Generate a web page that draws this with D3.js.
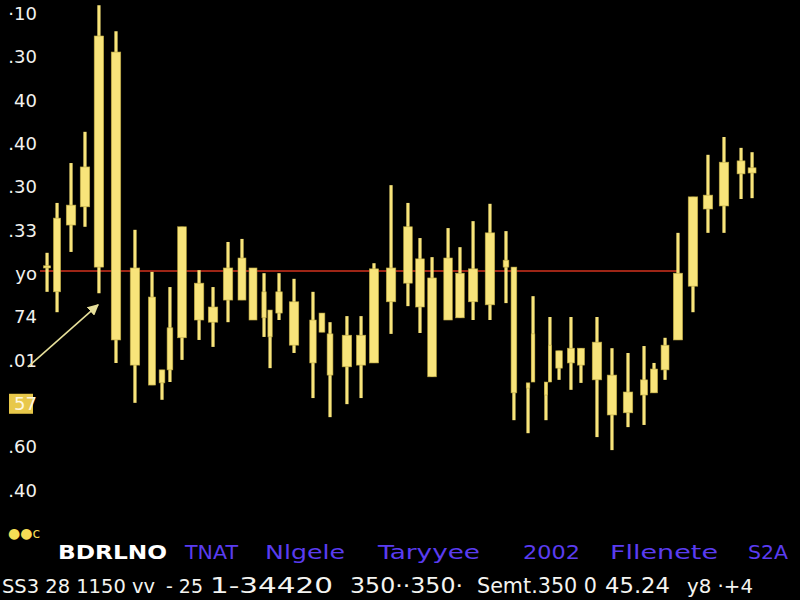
<!DOCTYPE html>
<html><head><meta charset="utf-8">
<script src="https://cdn.jsdelivr.net/npm/d3@7/dist/d3.min.js"></script>
<style>html,body{margin:0;padding:0;background:#000;}svg{display:block;}</style>
</head><body>
<svg id="chart" width="800" height="600"></svg>
<script>
// ---- data ----
const times  = [0.48,1.16,2.11,3.06,4.01,5.17,6.46,7.62,8.30,8.84,9.66,10.82,11.77,12.79,13.74,14.49,15.24,15.65,16.26,17.28,18.57,19.18,19.73,20.88,21.84,22.72,23.88,25.03,25.85,26.67,27.76,28.57,29.46,30.61,31.70,32.24,33.20,33.54,34.42,34.69,35.31,36.12,36.80,37.89,38.91,40.00,41.09,41.77,42.52,43.40,44.42,45.44,46.53,47.69,48.44];
const highs  = [6.47,7.62,8.54,9.26,12.18,11.58,7.00,6.03,3.77,5.68,7.07,6.07,5.68,6.72,6.79,6.12,6.00,5.15,6.00,5.87,5.57,5.08,4.87,5.01,5.01,6.23,8.03,7.62,6.81,6.37,7.04,6.60,7.20,7.60,6.97,6.14,3.47,5.47,3.49,4.99,4.21,4.99,4.27,4.99,4.27,4.16,4.32,3.93,4.51,6.93,7.76,8.73,9.14,8.89,8.79];
const opens  = [6.12,5.57,7.11,7.53,6.14,4.46,3.88,3.42,3.47,3.77,4.51,4.92,4.87,5.38,5.38,4.92,4.97,4.53,5.08,4.34,3.93,4.64,3.65,3.84,3.88,3.93,5.34,5.77,5.22,3.61,4.92,4.97,5.34,5.27,6.14,3.24,3.35,3.49,3.19,3.49,3.81,3.93,3.88,3.54,2.73,2.78,3.19,3.24,3.77,4.46,5.70,7.48,7.55,8.29,8.31];
const closes = [6.17,7.27,7.57,8.45,11.47,11.10,6.12,5.45,3.77,4.74,7.07,5.77,5.22,6.12,6.35,6.12,5.57,5.15,5.57,5.34,4.92,5.08,4.60,4.57,4.57,6.10,6.12,7.07,6.33,5.89,6.35,6.00,6.10,6.93,6.30,6.14,3.47,4.60,3.49,4.34,4.21,4.27,4.27,4.41,3.65,3.26,3.54,3.79,4.34,6.00,7.76,7.80,8.56,8.59,8.43];
const lows   = [5.57,5.10,6.49,7.07,5.54,3.93,3.01,3.42,3.08,3.49,4.00,4.46,4.30,4.87,5.38,4.92,4.53,3.81,4.92,4.16,3.12,4.64,2.68,2.98,3.12,3.93,4.60,5.24,4.62,3.61,4.92,4.97,4.92,4.92,5.31,2.61,2.31,3.49,2.61,3.49,3.54,3.31,3.47,2.22,1.92,2.45,2.50,3.24,3.54,4.46,5.10,6.93,6.93,7.71,7.73];
const tickValues = [12,11,10,9,8,7,6,5,4,3,2,1];
const tickLabels = ["·10",".30","40",".40",".30",".33","yo","74",".01","57",".60",".40"];
const refLevel = 6.05, refStart = 0, refEnd = 43.4;
const arrowFrom = [-0.82, 3.84], arrowTo = [3.95, 5.27];
const bottomLabels = ["BDRLNO","TNAT","Nlgele","Taryyee","2002","Fllenete","S2A"];
const footerTexts = ["SS3 28 1150 vv","- 25","1-34420","350··350·","Semt.350 0","45.24","y8 ·+4"];

// ---- layout ----
const svg = d3.select("#chart");
svg.append("rect").attr("width",800).attr("height",600).attr("fill","#000");
const x = d3.scaleLinear().domain([0,50]).range([40,775]);
const y = d3.scaleLinear().domain([1,12]).range([490,13]);

// y axis labels
const yAxis = d3.axisLeft(y).tickValues(tickValues)
  .tickFormat((d,i)=>tickLabels[i]).tickSize(0).tickPadding(0);
const ga = svg.append("g").attr("transform","translate(37,0)").call(yAxis);
ga.select(".domain").remove();
ga.selectAll("text").attr("fill","#f2f2ee").attr("font-family","DejaVu Sans, sans-serif")
  .attr("font-size",18).attr("dy","0.35em");
ga.selectAll(".tick").filter(d=>d===3).each(function(){
  const g=d3.select(this);
  g.insert("rect","text").attr("x",-28).attr("y",-10).attr("width",24).attr("height",20).attr("fill","#e8c84a");
  g.select("text").attr("fill","#fff8e0");
});
svg.append("text").attr("x",8).attr("y",538).attr("fill","#f5dd55")
  .attr("font-family","DejaVu Sans, sans-serif").attr("font-size",14).text("●●c");

// reference line
svg.append("line").attr("x1",x(refStart)).attr("x2",x(refEnd))
  .attr("y1",y(refLevel)).attr("y2",y(refLevel)).attr("stroke","#d2321e").attr("stroke-width",1.6);

// candles
const data = times.map((t,i)=>({t,h:highs[i],o:opens[i],c:closes[i],l:lows[i]}));
const widthOf = (i)=>{
  const px = x(times[i]);
  let gap = 20;
  if(i>0) gap = Math.min(gap, px - x(times[i-1]));
  if(i<times.length-1) gap = Math.min(gap, x(times[i+1]) - px);
  return Math.max(3, Math.min(9.5, gap*0.72));
};
const g = svg.append("g");
const yellow = "#f8e47a";
g.selectAll("line.wick").data(data).join("line").attr("class","wick")
  .attr("x1",d=>x(d.t)).attr("x2",d=>x(d.t))
  .attr("y1",d=>y(d.h)).attr("y2",d=>y(d.l))
  .attr("stroke",yellow).attr("stroke-width",3.2);
g.selectAll("rect.body").data(data).join("rect").attr("class","body")
  .attr("x",(d,i)=>x(d.t)-widthOf(i)/2).attr("width",(d,i)=>widthOf(i))
  .attr("y",d=>y(Math.max(d.o,d.c)))
  .attr("height",d=>Math.max(2,Math.abs(y(d.o)-y(d.c))))
  .attr("fill",yellow).attr("stroke","#b8a440").attr("stroke-width",0.6);

// arrow annotation
svg.append("defs").append("marker").attr("id","ah").attr("viewBox","0 0 10 10")
  .attr("refX",9).attr("refY",5).attr("markerWidth",7).attr("markerHeight",7).attr("orient","auto")
  .append("path").attr("d","M0,0 L10,5 L0,10 z").attr("fill","#e6df9a");
svg.append("line").attr("x1",x(arrowFrom[0])).attr("y1",y(arrowFrom[1]))
  .attr("x2",x(arrowTo[0])).attr("y2",y(arrowTo[1]))
  .attr("stroke","#e6df9a").attr("stroke-width",1.6).attr("marker-end","url(#ah)");

// fit text: choose a font size whose natural width is not wider than the target span
function fit(sel, targets, maxFs){
  sel.each(function(d,i){
    const t = d3.select(this).attr("font-size",maxFs);
    const n = this.getComputedTextLength();
    const fs = Math.min(maxFs, maxFs*targets[i]/n);
    t.attr("font-size",fs).attr("textLength",targets[i]).attr("lengthAdjust","spacingAndGlyphs");
  });
}

// bottom label row
const rowX = [58,185,265,378,523,610,748];
const rowW = [109,53,80,102,57,108,40];
const rowSel = svg.selectAll("text.blab").data(bottomLabels).join("text").attr("class","blab")
  .attr("x",(d,i)=>rowX[i]).attr("y",559)
  .attr("font-family","DejaVu Sans, sans-serif")
  .attr("font-weight",(d,i)=>i===0?"bold":"normal")
  .attr("fill",(d,i)=>i===0?"#ffffff":"#5a3cf0").text(d=>d);
fit(rowSel,rowW,20);

// footer row
const footX = [2,166,210,350,477,605,687];
const footW = [153,37,123,113,120,65,66];
const footSel = svg.selectAll("text.foot").data(footerTexts).join("text").attr("class","foot")
  .attr("x",(d,i)=>footX[i]).attr("y",593)
  .attr("font-family","DejaVu Sans, sans-serif")
  .attr("fill","#f4f4f0").text(d=>d);
fit(footSel,footW,21);
</script>
</body></html>
